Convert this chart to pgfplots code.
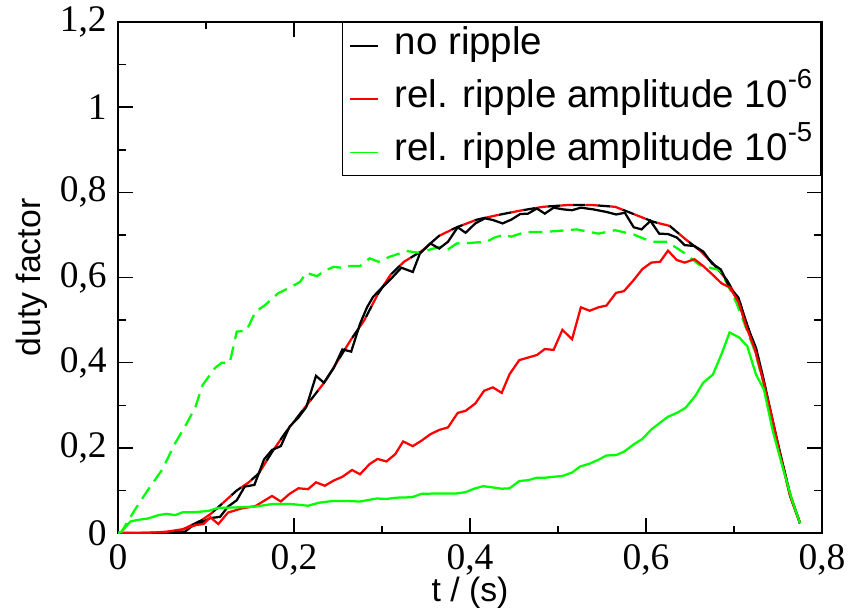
\documentclass[border=0pt]{standalone}
\usepackage{pgfplots}
\pgfplotsset{compat=1.18}
\usepackage{pgfplotstable}
\usepackage{fontspec}
\setmainfont{Liberation Serif}
\setsansfont{Liberation Sans}
\definecolor{xgreen}{RGB}{0,255,0}
\definecolor{xred}{RGB}{255,0,0}
\newcommand{\supx}[1]{\raisebox{7.5pt}{\fontsize{11}{11}\selectfont #1}}

\pgfplotstableread{
x y
0 0
0.02 0.0
0.04 0.0
0.06 0.001
0.07 0.002
0.076 0.003
0.084 0.016
0.093 0.023
0.105 0.035
0.116 0.038
0.125 0.062
0.135 0.077
0.144 0.109
0.155 0.113
0.166 0.173
0.175 0.195
0.185 0.204
0.195 0.250
0.205 0.271
0.214 0.296
0.225 0.369
0.234 0.353
0.245 0.387
0.255 0.431
0.265 0.426
0.275 0.491
0.283 0.530
0.290 0.555
0.301 0.578
0.313 0.603
0.322 0.623
0.335 0.613
0.343 0.656
0.355 0.680
0.365 0.668
0.375 0.684
0.386 0.718
0.395 0.705
0.406 0.727
0.417 0.739
0.426 0.735
0.437 0.727
0.447 0.736
0.457 0.749
0.466 0.750
0.476 0.762
0.485 0.750
0.495 0.764
0.506 0.760
0.516 0.758
0.526 0.764
0.540 0.760
0.555 0.754
0.566 0.748
0.576 0.752
0.586 0.718
0.595 0.713
0.605 0.733
0.615 0.703
0.625 0.702
0.635 0.694
0.644 0.676
0.655 0.674
0.665 0.661
0.675 0.633
0.685 0.619
0.695 0.577
0.705 0.553
0.715 0.486
0.725 0.435
0.733 0.367
0.743 0.273
0.752 0.191
0.764 0.089
0.775 0.023
}\noripple

\pgfplotstableread{
x y
0 0
0.02 0.0
0.04 0.001
0.055 0.003
0.074 0.009
0.089 0.019
0.097 0.021
0.105 0.037
0.114 0.021
0.125 0.048
0.141 0.058
0.156 0.063
0.175 0.087
0.185 0.074
0.195 0.092
0.205 0.105
0.216 0.103
0.225 0.119
0.235 0.111
0.245 0.123
0.255 0.132
0.266 0.148
0.275 0.138
0.286 0.162
0.295 0.174
0.305 0.168
0.315 0.185
0.324 0.215
0.335 0.204
0.345 0.217
0.355 0.232
0.365 0.242
0.375 0.248
0.386 0.282
0.395 0.287
0.406 0.304
0.416 0.334
0.426 0.342
0.436 0.329
0.445 0.373
0.456 0.406
0.466 0.412
0.476 0.418
0.485 0.432
0.495 0.430
0.505 0.477
0.516 0.455
0.526 0.530
0.536 0.522
0.546 0.530
0.555 0.534
0.566 0.564
0.575 0.568
0.586 0.594
0.596 0.620
0.606 0.635
0.616 0.637
0.625 0.663
0.635 0.641
0.644 0.635
0.655 0.643
0.665 0.627
0.676 0.606
0.686 0.586
0.695 0.577
0.705 0.543
0.714 0.484
0.724 0.430
0.733 0.359
0.743 0.273
0.752 0.187
0.764 0.085
0.775 0.023
}\ripplesix

\pgfplotstableread{
x y
0 0
0.004 0.003
0.014 0.027
0.023 0.031
0.034 0.034
0.046 0.042
0.055 0.045
0.065 0.042
0.074 0.049
0.088 0.049
0.103 0.052
0.114 0.059
0.133 0.060
0.156 0.062
0.175 0.068
0.197 0.068
0.216 0.064
0.228 0.071
0.243 0.075
0.262 0.075
0.275 0.074
0.294 0.081
0.305 0.080
0.317 0.083
0.334 0.084
0.345 0.092
0.366 0.093
0.385 0.093
0.395 0.096
0.406 0.105
0.415 0.110
0.426 0.107
0.436 0.104
0.445 0.105
0.456 0.122
0.466 0.124
0.476 0.130
0.486 0.130
0.495 0.132
0.505 0.134
0.516 0.142
0.525 0.156
0.536 0.163
0.546 0.172
0.555 0.182
0.566 0.183
0.575 0.191
0.586 0.208
0.596 0.221
0.606 0.243
0.616 0.259
0.625 0.273
0.635 0.282
0.645 0.294
0.656 0.322
0.665 0.353
0.676 0.372
0.686 0.421
0.695 0.471
0.706 0.459
0.715 0.439
0.725 0.372
0.734 0.337
0.744 0.240
0.754 0.164
0.766 0.077
0.775 0.023
}\ripplefive

\pgfplotstableread{
x y
0 0
0.03 0.0
0.05 0.001
0.07 0.005
0.084 0.019
0.095 0.030
0.106 0.046
0.12 0.072
0.135 0.100
0.148 0.118
0.16 0.140
0.175 0.190
0.19 0.235
0.205 0.275
0.22 0.315
0.235 0.355
0.25 0.405
0.265 0.455
0.28 0.500
0.295 0.560
0.31 0.607
0.325 0.637
0.345 0.662
0.365 0.698
0.385 0.718
0.408 0.736
0.43 0.746
0.457 0.757
0.483 0.766
0.51 0.770
0.54 0.770
0.565 0.766
0.586 0.749
0.608 0.731
0.627 0.721
0.646 0.688
0.661 0.664
0.676 0.633
0.692 0.594
0.707 0.539
0.722 0.445
0.733 0.360
0.743 0.270
0.752 0.190
0.764 0.087
0.775 0.023
}\simref

\pgfplotstableread{
x y
0 0
0.004 0.003
0.019 0.054
0.034 0.101
0.050 0.148
0.065 0.211
0.078 0.257
0.088 0.296
0.096 0.347
0.110 0.387
0.118 0.400
0.127 0.400
0.135 0.473
0.146 0.475
0.156 0.519
0.167 0.535
0.182 0.563
0.197 0.578
0.207 0.590
0.214 0.611
0.226 0.603
0.235 0.616
0.245 0.625
0.254 0.623
0.264 0.627
0.275 0.627
0.286 0.645
0.296 0.637
0.309 0.649
0.328 0.662
0.343 0.658
0.355 0.666
0.366 0.672
0.375 0.666
0.385 0.680
0.398 0.681
0.419 0.684
0.428 0.694
0.438 0.700
0.447 0.696
0.463 0.707
0.483 0.707
0.498 0.709
0.521 0.713
0.546 0.703
0.565 0.711
0.586 0.701
0.606 0.684
0.624 0.684
0.644 0.657
0.661 0.629
0.684 0.617
0.694 0.578
0.703 0.539
0.714 0.480
0.724 0.425
0.733 0.355
0.743 0.265
0.752 0.185
0.764 0.085
0.775 0.023
}\simfive

\begin{document}
\begin{tikzpicture}
\begin{axis}[
  name=ax,
  scale only axis,
  width=281.6pt, height=204.4pt,
  xmin=0, xmax=0.8, ymin=0, ymax=1.2,
  xtick={0,0.2,0.4,0.6,0.8},
  ytick={0,0.2,0.4,0.6,0.8,1,1.2},
  minor x tick num=1, minor y tick num=1,
  tick align=inside,
  major tick length=6pt, minor tick length=3pt,
  tick style={black, line width=0.6pt},
  axis line style={line width=0.8pt},
  /pgf/number format/.cd, use comma, assume math mode=true,
  /pgfplots/.cd,
  ticklabel style={font=\fontsize{15}{17}\selectfont},
  xticklabel style={yshift=-1pt},
  yticklabel style={xshift=-1pt},
  xlabel={t / (s)},
  ylabel={duty factor},
  label style={font=\sffamily\fontsize{13.5}{16}\selectfont},
  xlabel style={yshift=6pt},
  ylabel style={yshift=-2pt},
  legend style={at={(1,1)}, anchor=north east, draw=black, line width=0.6pt,
    font=\sffamily\fontsize{15.4}{18}\selectfont,
    nodes={inner xsep=1pt, inner ysep=1pt, text height=11pt, text depth=4.5pt},
    row sep=3.8pt, inner xsep=2.6pt, inner ysep=0.5pt},
  legend cell align=left,
  legend image code/.code={\draw[#1, line width=0.7pt] (0pt,0pt) -- (11pt,0pt);},
]
\addplot[black, line width=0.9pt, dash pattern=on 5pt off 5pt, forget plot] table[x=x,y=y] {\simref};
\addplot[xred, line width=0.9pt, dash pattern=on 5pt off 5pt, dash phase=5pt, forget plot] table[x=x,y=y] {\simref};
\addplot[xgreen, line width=0.9pt, dash pattern=on 5.5pt off 3pt, forget plot] table[x=x,y=y] {\simfive};
\addplot[black, line width=0.9pt] table[x=x,y=y] {\noripple};
\addlegendentry{\hspace{5.5pt}no ripple}
\addplot[xred, line width=0.9pt] table[x=x,y=y] {\ripplesix};
\addlegendentry{\hspace{5.5pt}rel. ripple amplitude 10\supx{-6}}
\addplot[xgreen, line width=0.9pt] table[x=x,y=y] {\ripplefive};
\addlegendentry{\hspace{5.5pt}rel. ripple amplitude 10\supx{-5}}
\end{axis}
\pgfresetboundingbox
\path ([shift={(-47.2pt,-30.4pt)}]ax.south west) rectangle ([shift={(12.4pt,8.8pt)}]ax.north east);
\end{tikzpicture}
\end{document}
